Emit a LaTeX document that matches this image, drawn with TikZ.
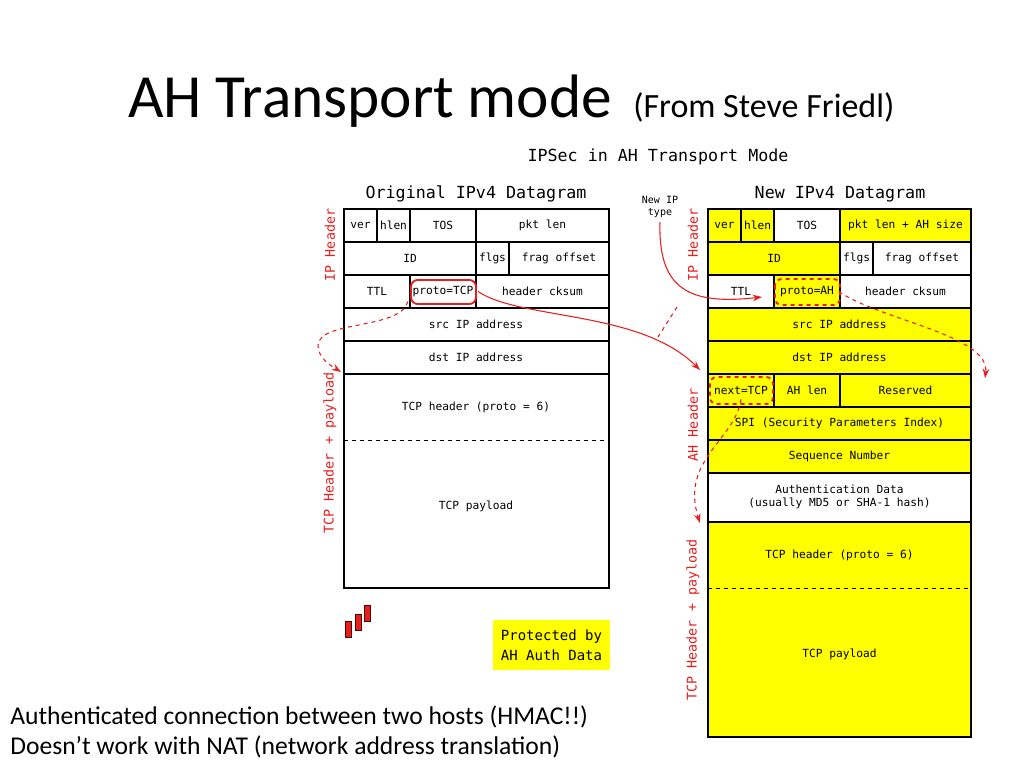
\documentclass[tikz,border=0pt]{standalone}
\usepackage{fontspec}
\setmainfont{Carlito}
\newfontfamily\monof{DejaVu Sans Mono}
\usetikzlibrary{arrows.meta}
\definecolor{ylw}{RGB}{255,255,0}
\definecolor{rd}{RGB}{230,30,30}
\begin{document}
\begin{tikzpicture}[x=0.75pt,y=-0.75pt,
  cell/.style={draw=black,line width=0.8pt},
  ycell/.style={cell,fill=ylw},
  txt/.style={font=\monof\fontsize{8.4}{9.5}\selectfont},
  side/.style={font=\monof\fontsize{10}{11}\selectfont,text=rd,rotate=90},
  hdr/.style={font=\monof\fontsize{12.5}{13}\selectfont},
  redarrow/.style={draw=rd,line width=0.8pt,-{Stealth[length=7pt,width=5pt]}},
  reddash/.style={redarrow,dashed},
  ring/.style={draw=rd,line width=1.4pt,rounded corners=5pt},
  thick box/.style={draw=black,line width=2pt}]
\useasboundingbox (0,0) rectangle (1024,768);
% title
\node[anchor=base west,font=\fontsize{46}{48}\selectfont,inner sep=0] (title) at (128,117) {AH Transport mode};
\node[anchor=base west,font=\fontsize{25.5}{27}\selectfont,inner sep=0] (from) at (633,117) {(From Steve Friedl)};
\node[hdr] (ipsec) at (658,157) {IPSec in AH Transport Mode};
\node[hdr] (orig) at (476,194) {Original IPv4 Datagram};
\node[hdr] (newd) at (840,194) {New IPv4 Datagram};
\node[txt,align=center,font=\monof\fontsize{7.5}{9}\selectfont] (newip) at (660,207) {New IP\\type};
% ---------- left datagram ----------
\draw[cell] (344,209) rectangle (377,242); \node[txt] (l1) at (360.5,225.5) {ver};
\draw[cell] (377,209) rectangle (410,242); \node[txt] (l2) at (393.5,225.5) {hlen};
\draw[cell] (410,209) rectangle (476,242); \node[txt] (l3) at (443,225.5) {TOS};
\draw[cell] (476,209) rectangle (609,242); \node[txt] (l4) at (542.5,225.5) {pkt len};
\draw[cell] (344,242) rectangle (476,275); \node[txt] (l5) at (410,258.5) {ID};
\draw[cell] (476,242) rectangle (509,275); \node[txt] (l6) at (492.5,258.5) {flgs};
\draw[cell] (509,242) rectangle (609,275); \node[txt] (l7) at (559,258.5) {frag offset};
\draw[cell] (344,275) rectangle (410,308); \node[txt] (l8) at (377,291.5) {TTL};
\draw[cell] (410,275) rectangle (476,308); \node[txt] (lproto) at (443,291.5) {proto=TCP};
\draw[cell] (476,275) rectangle (609,308); \node[txt] (l9) at (542.5,291.5) {header cksum};
\draw[cell] (344,308) rectangle (609,341); \node[txt] (l10) at (476,324.5) {src IP address};
\draw[cell] (344,341) rectangle (609,374); \node[txt] (l11) at (476,357.5) {dst IP address};
\draw[cell] (344,374) rectangle (609,588);
\draw[dashed,line width=0.6pt] (344,440) -- (609,440);
\node[txt] (l12) at (476,407) {TCP header (proto = 6)};
\node[txt] (l13) at (476,506) {TCP payload};
\draw[thick box] (344,209) rectangle (609,588);
\draw[line width=2pt] (344,374) -- (609,374);
\node[side] (lip) at (330,245) {IP Header};
\node[side] (ltcp) at (330,453) {TCP Header + payload};
% ---------- right datagram ----------
\draw[ycell] (708,209) rectangle (741,242); \node[txt] (r1) at (724.5,225.5) {ver};
\draw[ycell] (741,209) rectangle (774,242); \node[txt] (r2) at (757.5,225.5) {hlen};
\draw[cell] (774,209) rectangle (840,242); \node[txt] (r3) at (807,225.5) {TOS};
\draw[ycell] (840,209) rectangle (971,242); \node[txt] (r4) at (905.5,225.5) {pkt len + AH size};
\draw[ycell] (708,242) rectangle (840,275); \node[txt] (r5) at (774,258.5) {ID};
\draw[cell] (840,242) rectangle (873,275); \node[txt] (r6) at (856.5,258.5) {flgs};
\draw[cell] (873,242) rectangle (971,275); \node[txt] (r7) at (922,258.5) {frag offset};
\draw[cell] (708,275) rectangle (774,308); \node[txt] (r8) at (741,291.5) {TTL};
\draw[ycell] (774,275) rectangle (840,308); \node[txt] (rproto) at (807,291.5) {proto=AH};
\draw[cell] (840,275) rectangle (971,308); \node[txt] (r9) at (905.5,291.5) {header cksum};
\draw[ycell] (708,308) rectangle (971,341); \node[txt] (r10) at (839.5,324.5) {src IP address};
\draw[ycell] (708,341) rectangle (971,374); \node[txt] (r11) at (839.5,357.5) {dst IP address};
\draw[ycell] (708,374) rectangle (774,407); \node[txt] (rnext) at (741,390.5) {next=TCP};
\draw[ycell] (774,374) rectangle (840,407); \node[txt] (r12) at (807,390.5) {AH len};
\draw[ycell] (840,374) rectangle (971,407); \node[txt] (r13) at (905.5,390.5) {Reserved};
\draw[ycell] (708,407) rectangle (971,440); \node[txt] (r14) at (839.5,423.5) {SPI (Security Parameters Index)};
\draw[ycell] (708,440) rectangle (971,473); \node[txt] (r15) at (839.5,456.5) {Sequence Number};
\draw[cell] (708,473) rectangle (971,522); \node[txt,align=center] (r16) at (839.5,497) {Authentication Data\\(usually MD5 or SHA-1 hash)};
\draw[ycell] (708,522) rectangle (971,737);
\draw[dashed,line width=0.6pt] (708,588) -- (971,588);
\node[txt] (r17) at (839.5,555) {TCP header (proto = 6)};
\node[txt] (r18) at (839.5,654) {TCP payload};
\draw[thick box] (708,209) rectangle (971,737);
\draw[line width=2pt] (708,374) -- (971,374);
\draw[line width=2pt] (708,522) -- (971,522);
\node[side] (rip) at (693,245) {IP Header};
\node[side] (rah) at (693,425) {AH Header};
\node[side] (rtcp) at (693,620) {TCP Header + payload};
% rings
\draw[ring] (411,280) rectangle (476,304);
\draw[ring,dashed] (775,279) rectangle (840,305);
\draw[ring,dashed] (710,377) rectangle (773,404);
% arrows
\coordinate (a1e) at (700,370);
\draw[redarrow] (lproto.east) .. controls (520,320) and (640,310) .. (a1e);
\coordinate (a2e) at (341,372);
\draw[reddash] (lproto.south west) .. controls (400,330) and (320,320) .. (318,345) .. controls (318,358) and (330,365) .. (a2e);
\coordinate (a3e) at (762,297);
\draw[redarrow] (newip.south) .. controls (658,290) and (690,305) .. (a3e);
\coordinate (d1) at (677,307); \coordinate (d2) at (658,337);
\draw[draw=rd,dashed,line width=0.8pt] (d1) -- (d2);
\coordinate (a5e) at (985,378);
\draw[reddash] (rproto.east) .. controls (880,320) and (990,335) .. (a5e);
\coordinate (a6e) at (700,523);
\draw[reddash] (rnext.south) .. controls (735,440) and (680,460) .. (a6e);
% legend
\foreach \x/\yy in {345/621,355/614,364/605}{
  \draw[fill=rd,draw=black!70!red,line width=0.5pt] (\x,\yy) rectangle ++(6,16);}
\node[draw=none,fill=ylw,minimum width=117*0.75pt,minimum height=50*0.75pt,align=left,font=\monof\fontsize{10.5}{15}\selectfont] (prot) at (551.5,645) {Protected by\\AH Auth Data};
% footer
\node[anchor=base west,inner sep=0,font=\fontsize{19.2}{21}\selectfont] (f1) at (10,724) {Authenticated connection between two hosts (HMAC!!)};
\node[anchor=base west,inner sep=0,font=\fontsize{19.2}{21}\selectfont] (f2) at (10,754) {Doesn’t work with NAT (network address translation)};
\end{tikzpicture}
\end{document}
